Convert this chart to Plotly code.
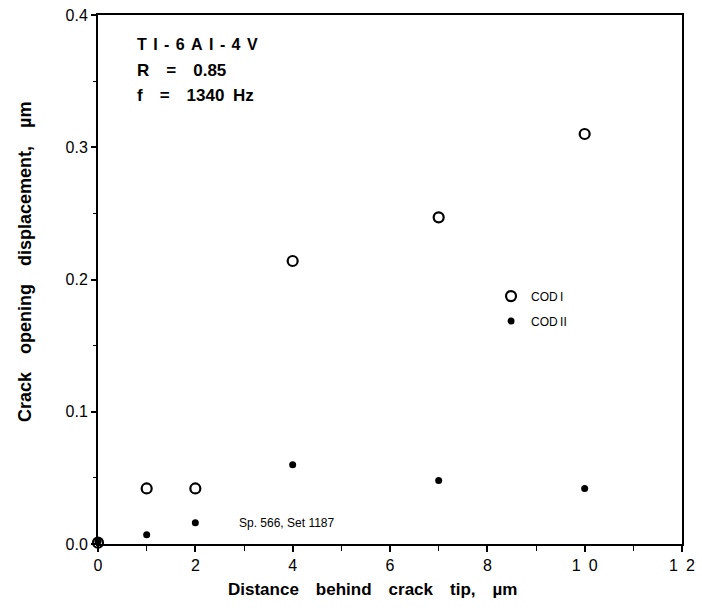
import plotly.graph_objects as go

dist = [0, 1, 2, 4, 7, 10]
cod1 = [0.001, 0.042, 0.042, 0.214, 0.247, 0.310]
cod2 = [0.002, 0.007, 0.016, 0.060, 0.048, 0.042]
x_ticks = [0, 2, 4, 6, 8, 10, 12]
x_labels = ["0", "2", "4", "6", "8", "1\u20020", "1\u20022"]
y_ticks = [0.0, 0.1, 0.2, 0.3, 0.4]
y_labels = ["0.0", "0.1", "0.2", "0.3", "0.4"]

FONT = "Liberation Sans, Arial, sans-serif"
em = "\u2003"
en = "\u2002"
ts2 = "\u2009\u2009"

fig = go.Figure()
fig.add_trace(go.Scatter(
    x=dist, y=cod1, mode="markers", name="COD\u2009I", legendgroup="a",
    marker=dict(symbol="circle-open", size=10, color="black", line=dict(width=2.2, color="black")),
    cliponaxis=False))
fig.add_trace(go.Scatter(
    x=dist, y=cod2, mode="markers", name="COD\u2009II", legendgroup="b",
    marker=dict(symbol="circle", size=7, color="black"),
    cliponaxis=False))

alloy = ts2.join("TI-6AI-4V")
info_lines = [(alloy, 16, 45), (f"R{em}={em}0.85", 17, 70), (f"f{em}={em}1340{en}Hz", 17, 95)]
for txt, fs, ypx in info_lines:
    fig.add_annotation(
        x=(135 - 98) / 584, y=(544 - ypx) / 529, xref="paper", yref="paper",
        xanchor="left", yanchor="middle", showarrow=False,
        text=f"<b>{txt}</b>", font=dict(family=FONT, size=fs, color="black"))

fig.add_annotation(
    x=3.88, y=0.016, xref="x", yref="y", xanchor="center", yanchor="middle",
    showarrow=False, text="Sp. 566, Set 1187",
    font=dict(family=FONT, size=12, color="black"))

# axis titles
fig.add_annotation(
    x=(372 - 98) / 584, y=(544 - 589) / 529, xref="paper", yref="paper",
    xanchor="center", yanchor="middle", showarrow=False,
    text=f"<b>Distance{em}behind{em}crack{em}tip,{em}\u00b5m</b>",
    font=dict(family=FONT, size=17, color="black"))
fig.add_annotation(
    x=(25 - 98) / 584, y=(544 - 262) / 529, xref="paper", yref="paper",
    xanchor="center", yanchor="middle", showarrow=False, textangle=-90,
    text=f"<b>Crack{em}opening{em}displacement,{em}\u00b5m</b>",
    font=dict(family=FONT, size=18, color="black"))

fig.update_layout(
    width=702, height=616,
    margin=dict(l=98, r=20, t=15, b=72, autoexpand=False),
    paper_bgcolor="white", plot_bgcolor="white",
    font=dict(family=FONT, size=15, color="black"),
    showlegend=True,
    legend=dict(x=0.673, y=0.496, xanchor="left", yanchor="top",
                bgcolor="rgba(0,0,0,0)", font=dict(family=FONT, size=12, color="black"),
                itemsizing="trace", tracegroupgap=6),
    xaxis=dict(
        range=[0, 12], tickvals=x_ticks, ticktext=x_labels, automargin=False,
        showgrid=False, zeroline=False,
        showline=True, linecolor="black", linewidth=2, mirror=True,
        ticks="outside", ticklen=6, tickwidth=1.5, tickcolor="black",
        minor=dict(dtick=1, ticks="outside", ticklen=5, tickwidth=1.2, tickcolor="black"),
        tickfont=dict(family=FONT, size=16),
    ),
    yaxis=dict(
        range=[0, 0.4], tickvals=y_ticks, ticktext=y_labels, automargin=False,
        showgrid=False, zeroline=False,
        showline=True, linecolor="black", linewidth=2, mirror=True,
        ticks="outside", ticklen=5, tickwidth=1.5, tickcolor="black",
        minor=dict(dtick=0.05, ticks="outside", ticklen=3, tickwidth=1.2, tickcolor="black"),
        tickfont=dict(family=FONT, size=16),
    ),
)

fig.write_html("out.html")
